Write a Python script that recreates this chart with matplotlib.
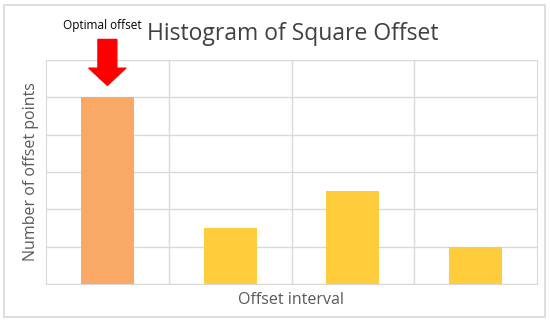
import matplotlib.pyplot as plt
from matplotlib.patches import Rectangle

# data
intervals = ["1", "2", "3", "4"]
counts = [5, 1.5, 2.5, 1]
bar_colors = ["#F9A866", "#FFCD3C", "#FFCD3C", "#FFCD3C"]

plt.rcParams["font.family"] = ["Open Sans", "DejaVu Sans"]

fig = plt.figure(figsize=(5.5, 3.23), dpi=100)
# outer chart frame
fig.patches.append(Rectangle((4 / 550, 1 - 317 / 323), 541 / 550, 312 / 323,
                             transform=fig.transFigure, fill=False,
                             edgecolor="#D9D9D9", linewidth=1.2))

ax = fig.add_axes([46 / 550, 1 - 284 / 323, 491 / 550, 224 / 323])
x = list(range(len(intervals)))
ax.bar(x, counts, width=0.43, color=bar_colors, zorder=3)

ax.set_xlim(-0.5, len(intervals) - 0.5)
ax.set_ylim(0, 6)
ax.set_yticks(range(0, 7))
ax.set_xticks([i + 0.5 for i in x[:-1]], minor=True)
ax.set_xticks([])
ax.tick_params(which="both", length=0, labelleft=False, labelbottom=False)
ax.grid(axis="y", color="#D9D9D9", linewidth=1, zorder=0)
ax.grid(axis="x", which="minor", color="#D9D9D9", linewidth=1, zorder=0)
for s in ax.spines.values():
    s.set_color("#D9D9D9")

ax.set_ylabel("Number of offset points", fontsize=11.5, color="#595959", labelpad=5)
ax.set_xlabel("Offset interval", fontsize=11.5, color="#595959", labelpad=6)

fig.text(293 / 550, 1 - 34 / 323, "Histogram of Square Offset", fontsize=16.5,
         color="#404040", ha="center", va="center")
fig.text(102 / 550, 1 - 26 / 323, "Optimal offset", fontsize=8.5,
         color="black", ha="center", va="center")

# red arrow pointing at optimal bar
ax.annotate("", xy=(0, 5.32), xytext=(0, 6.55), annotation_clip=False,
            arrowprops=dict(arrowstyle="simple,head_length=0.62,head_width=1.33,tail_width=0.68",
                            mutation_scale=20, color="#FF0000", shrinkA=0, shrinkB=0))

fig.savefig("out.png", dpi=100)
